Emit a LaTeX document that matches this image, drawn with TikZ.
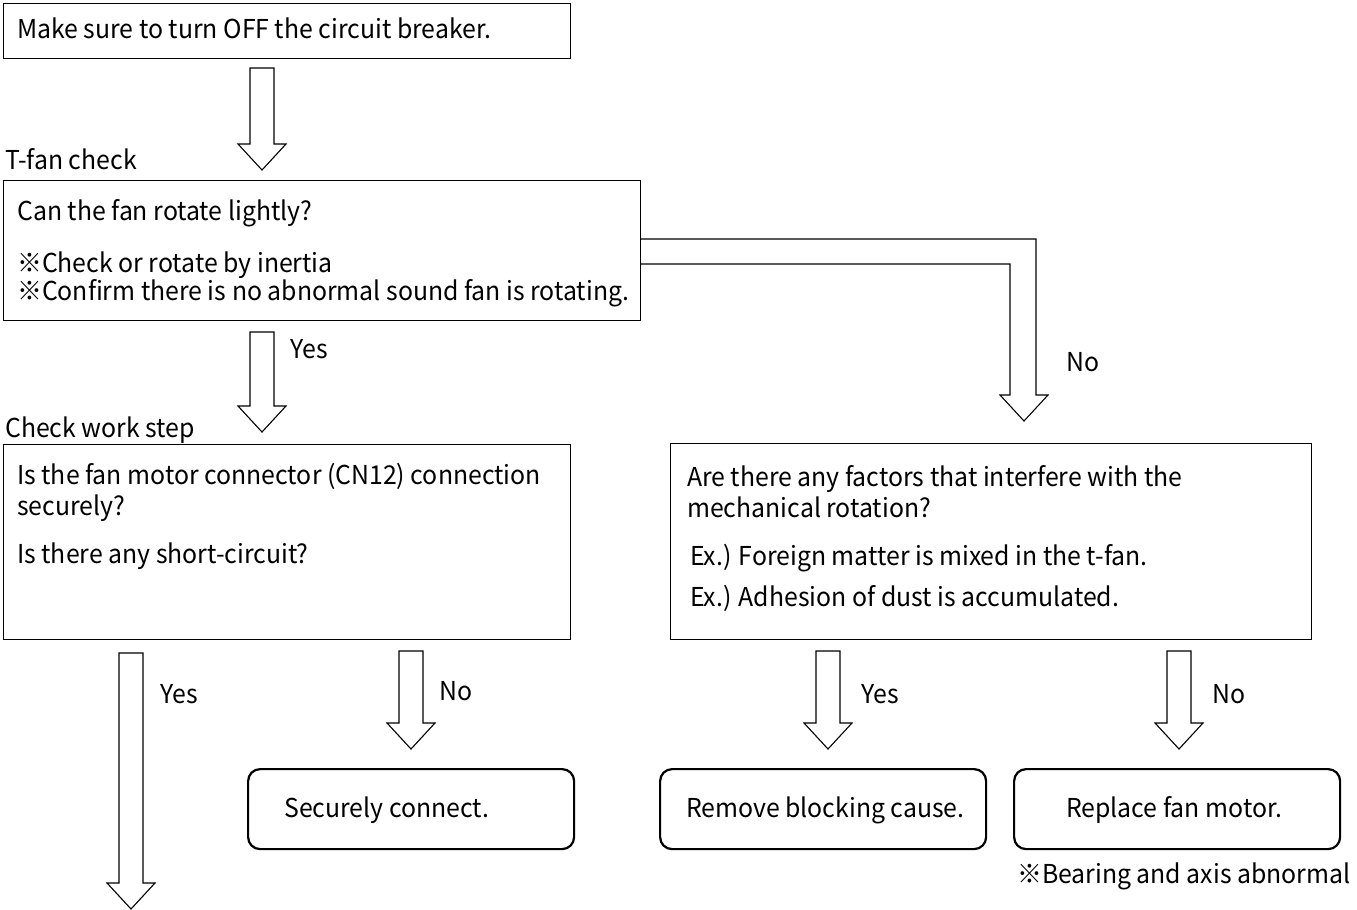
\documentclass[tikz,border=0pt]{standalone}
\usepackage{fontspec}
\setmainfont{Noto Sans CJK JP}[FakeStretch=0.955]
\usetikzlibrary{positioning}

\begin{document}
\begin{tikzpicture}[
    x=1pt, y=-1pt,
    font=\fontsize{26}{30}\selectfont,
    box/.style={draw, line width=1pt, anchor=north west, inner sep=0pt},
    endbox/.style={draw, line width=2.2pt, rounded corners=12pt, anchor=north west, inner sep=0pt},
    txt/.style={anchor=base west, inner sep=0pt},
    hollow/.style={draw, line width=1.1pt, line join=miter}
]
    \useasboundingbox (0,0) rectangle (1357,910);

    % --- boxes ---
    \node[box, minimum width=567, minimum height=55] (off) at (3,3) {};
    \node[box, minimum width=637, minimum height=140] (fan) at (3,180) {};
    \node[box, minimum width=567, minimum height=195] (work) at (3,444) {};
    \node[box, minimum width=641, minimum height=196] (mech) at (670,443) {};
    \node[endbox, minimum width=326, minimum height=80] (conn) at (247,768) {};
    \node[endbox, minimum width=326, minimum height=80] (rem) at (659,768) {};
    \node[endbox, minimum width=326, minimum height=80] (repl) at (1013,768) {};

    % --- texts ---
    \node[txt] (t0) at (17,38) {Make sure to turn OFF the circuit breaker.};
    \node[txt] (h1) at (5,169) {T-fan check};
    \node[txt] (t1) at (17,220) {Can the fan rotate lightly?};
    \node[txt] (t2) at (17,272) {※Check or rotate by inertia};
    \node[txt] (t3) at (17,300) {※Confirm there is no abnormal sound fan is rotating.};
    \node[txt] (h2) at (5,437) {Check work step};
    \node[txt] (t4) at (17,484) {Is the fan motor connector (CN12) connection};
    \node[txt] (t5) at (17,515) {securely?};
    \node[txt] (t6) at (17,563) {Is there any short-circuit?};
    \node[txt] (t7) at (687,486) {Are there any factors that interfere with the};
    \node[txt] (t8) at (687,517) {mechanical rotation?};
    \node[txt] (t9) at (690,565) {Ex.) Foreign matter is mixed in the t-fan.};
    \node[txt] (t10) at (690,606) {Ex.) Adhesion of dust is accumulated.};
    \node[txt] (r1) at (284,817) {Securely connect.};
    \node[txt] (r2) at (686,817) {Remove blocking cause.};
    \node[txt] (r3) at (1066,817) {Replace fan motor.};
    \node[txt] (note) at (1017,883) {※Bearing and axis abnormal};

    % --- Yes / No ---
    \node[txt] (y1) at (290,358) {Yes};
    \node[txt] (n1) at (1066,371) {No};
    \node[txt] (y2) at (160,703) {Yes};
    \node[txt] (n2) at (439,700) {No};
    \node[txt] (y3) at (861,703) {Yes};
    \node[txt] (n3) at (1212,703) {No};

    % --- hollow arrows ---
    \foreach \x/\t/\b in {262/68/170, 262/332/432, 131/653/909, 411/651/749, 828/651/749, 1179/651/749} {
        \draw[hollow] ({\x-12},\t) -- ({\x+12},\t) -- ({\x+12},{\b-26}) -- ({\x+24},{\b-26})
            -- (\x,\b) -- ({\x-24},{\b-26}) -- ({\x-12},{\b-26}) -- cycle;
    }

    % fan -> mech (No)
    \draw[hollow] (fan.east |- 0,239) -- (1036,239) -- (1036,395) -- (1048,395) -- (1024,421)
        -- (1000,395) -- (1010,395) -- (1010,264) -- (fan.east |- 0,264);

\end{tikzpicture}
\end{document}
